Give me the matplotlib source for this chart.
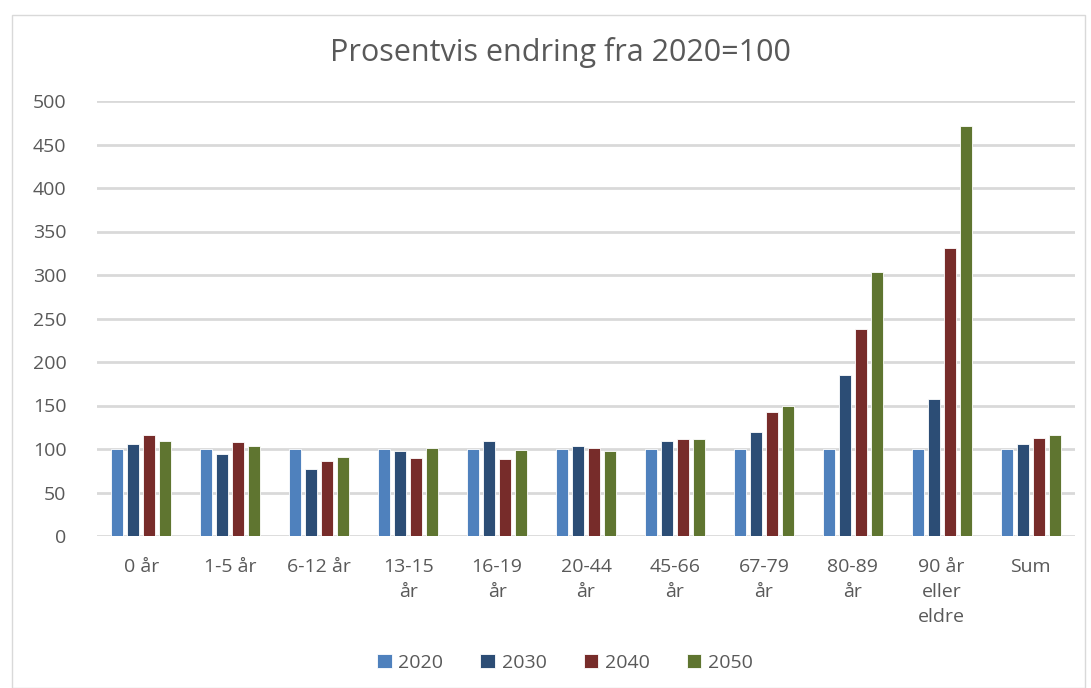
import matplotlib.pyplot as plt
import numpy as np
from matplotlib.patches import Rectangle

plt.rcParams['font.family'] = ['Open Sans', 'DejaVu Sans']

categories = ["0 år", "1-5 år", "6-12 år", "13-15\når", "16-19\når", "20-44\når",
              "45-66\når", "67-79\når", "80-89\når", "90 år\neller\neldre", "Sum"]
series = ["2020", "2030", "2040", "2050"]
v2020 = [100, 100, 100, 100, 100, 100, 100, 100, 100, 100, 100]
v2030 = [106, 94, 76.5, 98, 109, 103, 109, 119, 185, 157, 106]
v2040 = [116, 108, 86, 90, 88.5, 101.5, 111, 142, 238, 331.5, 113]
v2050 = [109, 103, 91, 101.5, 99, 98, 112, 150, 303.5, 471, 116.5]
colors = ["#4F81BD", "#2C4D75", "#772C2A", "#5F7530"]

fig = plt.figure(figsize=(10.91, 6.88), dpi=100)
# chart border
fig.add_artist(Rectangle((12/1091, 0), 1073/1091, 673/688, transform=fig.transFigure,
                         fill=False, edgecolor="#d9d9d9", linewidth=1))
ax = fig.add_axes([97/1091, 1 - 536/688, 978/1091, 435/688])

x = np.arange(len(categories))
w = 0.135
step = 0.18
for i, (vals, c, s) in enumerate(zip([v2020, v2030, v2040, v2050], colors, series)):
    ax.bar(x + (i - 1.5) * step, vals, width=w, color=c, edgecolor="white",
           linewidth=0.6, label=s, zorder=3)

ax.set_xlim(-0.5, len(categories) - 0.5)
ax.set_ylim(0, 500)
ax.set_yticks(np.arange(0, 501, 50))
ax.yaxis.grid(True, color="#d9d9d9", linewidth=2, zorder=0)
ax.set_axisbelow(True)
for sp in ["top", "right", "left", "bottom"]:
    ax.spines[sp].set_visible(False)
ax.tick_params(axis="both", length=0, colors="#595959", labelsize=14)
ax.tick_params(axis="y", pad=22)
ax.set_xticks(x)
ax.set_xticklabels(categories, linespacing=1.5)
ax.tick_params(axis="x", pad=16)

fig.text(560/1091, 1 - 53/688, "Prosentvis endring fra 2020=100", ha="center", va="center",
         fontsize=22, color="#595959")

leg = fig.legend(loc="center", bbox_to_anchor=(565/1091, 1 - 663/688), ncol=4, frameon=False,
                 fontsize=14, handlelength=0.75, handleheight=0.75, handletextpad=0.35,
                 columnspacing=1.9, labelcolor="#595959")

fig.savefig("out.png", dpi=100)
